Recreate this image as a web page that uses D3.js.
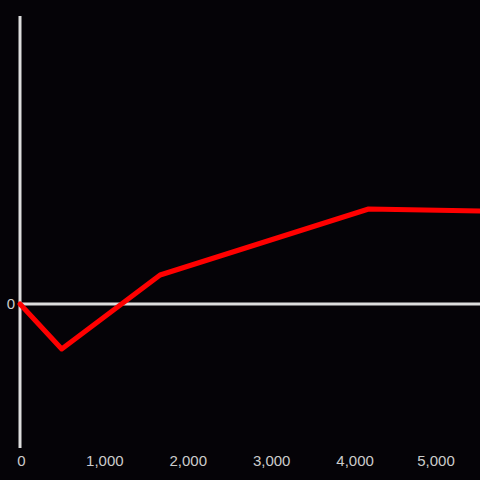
<!DOCTYPE html>
<html><head><meta charset="utf-8">
<script src="https://cdn.jsdelivr.net/npm/d3@7"></script>
<style>html,body{margin:0;padding:0;background:#050307;}svg{display:block;}</style>
</head><body>
<script>
const xValues = [0, 500, 1680, 4180, 5520];
const yValues = [0, -45, 29, 95, 93];
const xTicks = [0, 1000, 2000, 3000, 4000, 5000];
const yTicks = [0];

const W = 480, H = 480;
const svg = d3.select("body").append("svg").attr("width", W).attr("height", H)
  .style("background", "#050307");

const x = d3.scaleLinear().domain([0, 5516]).range([20, 480]);
const y = d3.scaleLinear().domain([-144, 288]).range([448, 16]);

svg.append("clipPath").attr("id", "c").append("rect")
  .attr("x", 0).attr("y", 0).attr("width", W).attr("height", H);

// zero line
svg.append("line").attr("x1", x(0)).attr("x2", W)
  .attr("y1", y(0)).attr("y2", y(0))
  .attr("stroke", "#dddddd").attr("stroke-width", 3);

// vertical axis
svg.append("line").attr("x1", x(0)).attr("x2", x(0))
  .attr("y1", 16).attr("y2", 448)
  .attr("stroke", "#dddddd").attr("stroke-width", 3);

const font = "'Liberation Sans', Arial, sans-serif";

// y tick label
svg.selectAll(".yt").data(yTicks).enter().append("text")
  .attr("x", x(0) - 5).attr("y", d => y(d)).attr("dy", "0.35em")
  .attr("text-anchor", "end").attr("fill", "#cccccc")
  .style("font-family", font).style("font-size", "15px")
  .text(d => d3.format(",")(d));

// x tick labels
svg.selectAll(".xt").data(xTicks).enter().append("text")
  .attr("x", d => Math.min(x(d) + 1.5, 436)).attr("y", 461).attr("dy", "0.35em")
  .attr("text-anchor", "middle").attr("fill", "#cccccc")
  .style("font-family", font).style("font-size", "15px")
  .text(d => d3.format(",")(d));

const pts = xValues.map((v, i) => [v, yValues[i]]);
svg.append("path").datum(pts)
  .attr("clip-path", "url(#c)")
  .attr("fill", "none").attr("stroke", "#ff0000").attr("stroke-width", 5)
  .attr("stroke-linejoin", "round").attr("stroke-linecap", "round")
  .attr("d", d3.line().x(d => x(d[0])).y(d => y(d[1])));
</script>
</body></html>
